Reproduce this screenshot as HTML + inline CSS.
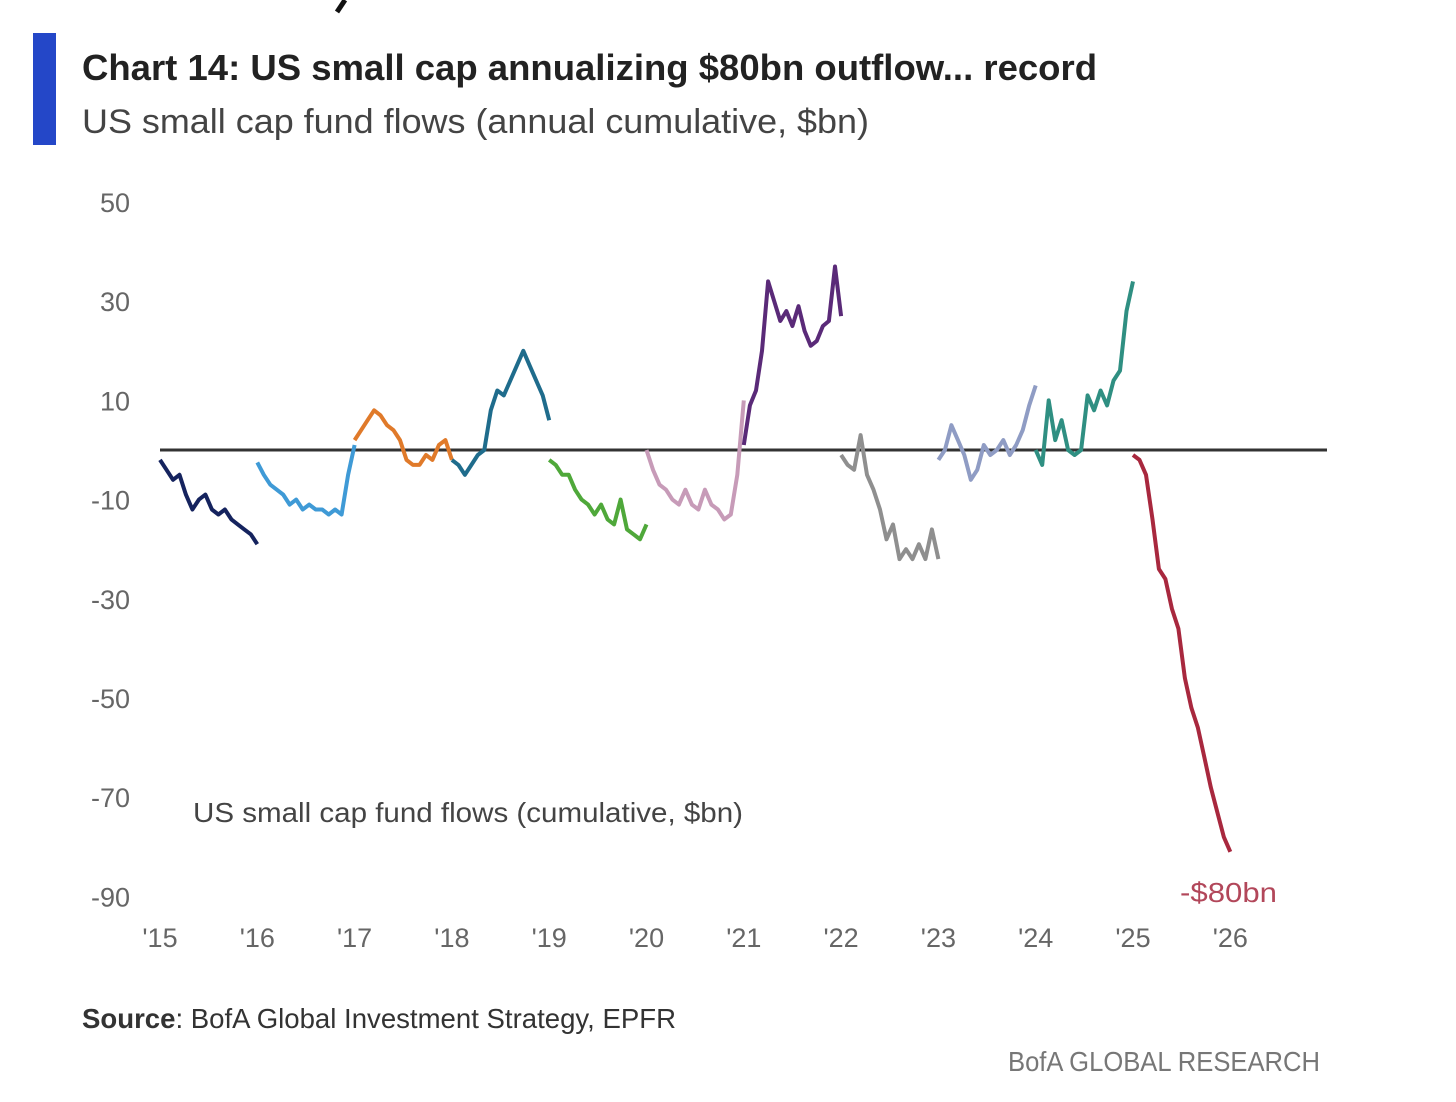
<!DOCTYPE html>
<html><head><meta charset="utf-8"><style>
html,body{margin:0;padding:0;background:#fff;width:1456px;height:1102px;overflow:hidden}
svg{display:block}
text{font-family:"Liberation Sans",sans-serif}
</style></head><body>
<svg id="chart" width="1456" height="1102" viewBox="0 0 1456 1102" xmlns="http://www.w3.org/2000/svg">
<path d="M345 0 L337 12" stroke="#111" stroke-width="5"/>
<rect x="33" y="33" width="23" height="112" fill="#2447c8"/>
<text x="82" y="80" font-size="36" font-weight="bold" fill="#222" textLength="1015" lengthAdjust="spacingAndGlyphs">Chart 14: US small cap annualizing $80bn outflow... record</text>
<text x="82" y="133" font-size="34" fill="#444" textLength="787" lengthAdjust="spacingAndGlyphs">US small cap fund flows (annual cumulative, $bn)</text>
<g id="yticks"></g><g id="xticks"></g>
<line id="zero" stroke="#333" stroke-width="3"/>
<g id="series"></g>
<text x="193" y="822" font-size="28" fill="#444" textLength="550" lengthAdjust="spacingAndGlyphs">US small cap fund flows (cumulative, $bn)</text>
<text x="1180" y="902" font-size="28" fill="#b2475a" textLength="97" lengthAdjust="spacingAndGlyphs">-$80bn</text>
<text x="82" y="1028" font-size="28" fill="#333" textLength="594" lengthAdjust="spacingAndGlyphs"><tspan font-weight="bold">Source</tspan>: BofA Global Investment Strategy, EPFR</text>
<text x="1008" y="1071" font-size="28" fill="#777" textLength="312" lengthAdjust="spacingAndGlyphs">BofA GLOBAL RESEARCH</text>
</svg>
<script>
const yTickValues=[50,30,10,-10,-30,-50,-70,-90];
const xTickLabels=["'15","'16","'17","'18","'19","'20","'21","'22","'23","'24","'25","'26"];
const years=[2015,2016,2017,2018,2019,2020,2021,2022,2023,2024,2025];
const colors=["#15235e","#3f9ad6","#e07a2a","#1f6c8c","#4fa83a","#c79bb8","#5a2a78","#8f8f8f","#8f9cc4","#2f8f82","#a8283e"];
const s2015=[-2,-4,-6,-5,-9,-12,-10,-9,-12,-13,-12,-14,-15,-16,-17,-19];
const s2016=[-2.5,-5,-7,-8,-9,-11,-10,-12,-11,-12,-12,-13,-12,-13,-5,1];
const s2017=[2,4,6,8,7,5,4,2,-2,-3,-3,-1,-2,1,2,-2];
const s2018=[-2,-3,-5,-3,-1,0,8,12,11,14,17,20,17,14,11,6];
const s2019=[-2,-3,-5,-5,-8,-10,-11,-13,-11,-14,-15,-10,-16,-17,-18,-15];
const s2020=[0,-4,-7,-8,-10,-11,-8,-11,-12,-8,-11,-12,-14,-13,-5,10];
const s2021=[1,9,12,20,34,30,26,28,25,29,24,21,22,25,26,37,27];
const s2022=[-1,-3,-4,3,-5,-8,-12,-18,-15,-22,-20,-22,-19,-22,-16,-22];
const s2023=[-2,0,5,2,-1,-6,-4,1,-1,0,2,-1,1,4,9,13];
const s2024=[0,-3,10,2,6,0,-1,0,11,8,12,9,14,16,28,34];
const s2025=[-1,-2,-5,-14,-24,-26,-32,-36,-46,-52,-56,-62,-68,-73,-78,-81];
const seriesData=[s2015,s2016,s2017,s2018,s2019,s2020,s2021,s2022,s2023,s2024,s2025];
const NS="http://www.w3.org/2000/svg";
const x0=160,yearW=97.3,y0=450,pxPerUnit=4.96;
const xScale=t=>x0+(t-2015)*yearW;
const yScale=v=>y0-v*pxPerUnit;
const yt=document.getElementById('yticks');
yTickValues.forEach(v=>{const t=document.createElementNS(NS,'text');


t.setAttribute('x',130);t.setAttribute('y',yScale(v)+10);t.setAttribute('text-anchor','end');
t.setAttribute('font-size','27');t.setAttribute('fill','#666');t.textContent=v;yt.appendChild(t);});
const xt=document.getElementById('xticks');
xTickLabels.forEach((l,i)=>{const t=document.createElementNS(NS,'text');


t.setAttribute('x',xScale(2015+i));t.setAttribute('y',947);t.setAttribute('text-anchor','middle');
t.setAttribute('font-size','27');t.setAttribute('fill','#666');t.textContent=l;xt.appendChild(t);});
const z=document.getElementById('zero');
z.setAttribute('x1',xScale(2015));z.setAttribute('x2',1327);z.setAttribute('y1',yScale(0));z.setAttribute('y2',yScale(0));
const sg=document.getElementById('series');
seriesData.forEach((arr,i)=>{const n=arr.length;
const d=arr.map((v,j)=>(j?'L':'M')+xScale(years[i]+j/(n-1)).toFixed(1)+' '+yScale(v).toFixed(1)).join(' ');
const p=document.createElementNS(NS,'path');


p.setAttribute('d',d);p.setAttribute('fill','none');p.setAttribute('stroke',colors[i]);
p.setAttribute('stroke-width','4');p.setAttribute('stroke-linejoin','round');sg.appendChild(p);});
</script>
</body></html>
